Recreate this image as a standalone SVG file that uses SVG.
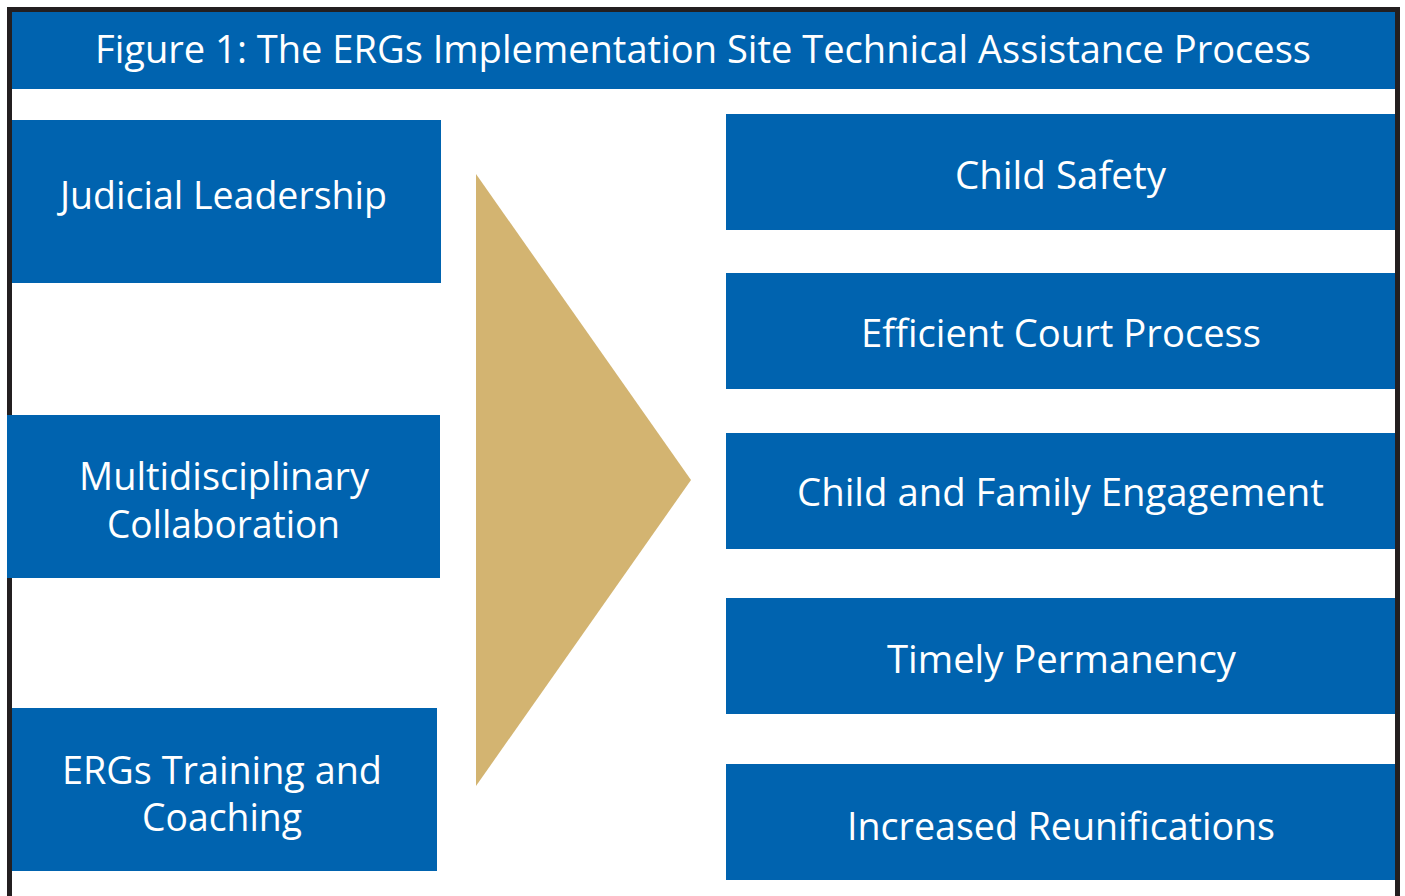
<svg xmlns="http://www.w3.org/2000/svg" width="1405" height="896" viewBox="0 0 1405 896">
<style>
.box{fill:#0063AF}
.t{fill:#FFFFFF;font-family:"Open Sans","Noto Sans","Liberation Sans",sans-serif;font-size:38px;text-anchor:middle}
</style>
<rect x="0" y="0" width="1405" height="896" fill="#FFFFFF"/>
<g id="frame">
<rect x="8" y="8" width="1390" height="900" fill="none" stroke="#8a8a8a" stroke-width="1"/>
<rect x="9.5" y="9.5" width="1388" height="900" fill="none" stroke="#231F20" stroke-width="5"/>
</g>
<g id="title">
<rect class="box" x="12" y="12" width="1383" height="77"/>
<text class="t" x="703" y="63" textLength="1216" lengthAdjust="spacingAndGlyphs">Figure 1: The ERGs Implementation Site Technical Assistance Process</text>
</g>
<g id="judicial">
<rect class="box" x="12" y="120" width="429" height="163"/>
<text class="t" x="223.5" y="209" textLength="327" lengthAdjust="spacingAndGlyphs">Judicial Leadership</text>
</g>
<g id="multidisciplinary">
<rect class="box" x="7" y="415" width="433" height="163"/>
<text class="t" x="224" y="490" textLength="290" lengthAdjust="spacingAndGlyphs">Multidisciplinary</text>
<text class="t" x="223.5" y="538" textLength="233" lengthAdjust="spacingAndGlyphs">Collaboration</text>
</g>
<g id="training">
<rect class="box" x="12" y="708" width="425" height="163"/>
<text class="t" x="222" y="784" textLength="320" lengthAdjust="spacingAndGlyphs">ERGs Training and</text>
<text class="t" x="222" y="831" textLength="160" lengthAdjust="spacingAndGlyphs">Coaching</text>
</g>
<g id="connectors">
<polygon points="476,174 691,480 476,786" fill="#D3B471"/>
</g>
<g id="child-safety">
<rect class="box" x="726" y="114" width="669" height="116"/>
<text class="t" x="1060.5" y="189" textLength="211" lengthAdjust="spacingAndGlyphs">Child Safety</text>
</g>
<g id="efficient">
<rect class="box" x="726" y="273" width="669" height="116"/>
<text class="t" x="1061" y="347" textLength="400" lengthAdjust="spacingAndGlyphs">Efficient Court Process</text>
</g>
<g id="engagement">
<rect class="box" x="726" y="433" width="669" height="116"/>
<text class="t" x="1060.5" y="506" textLength="527" lengthAdjust="spacingAndGlyphs">Child and Family Engagement</text>
</g>
<g id="permanency">
<rect class="box" x="726" y="598" width="669" height="116"/>
<text class="t" x="1061.5" y="673" textLength="349" lengthAdjust="spacingAndGlyphs">Timely Permanency</text>
</g>
<g id="reunifications">
<rect class="box" x="726" y="764" width="669" height="116"/>
<text class="t" x="1061" y="840" textLength="428" lengthAdjust="spacingAndGlyphs">Increased Reunifications</text>
</g>
</svg>
